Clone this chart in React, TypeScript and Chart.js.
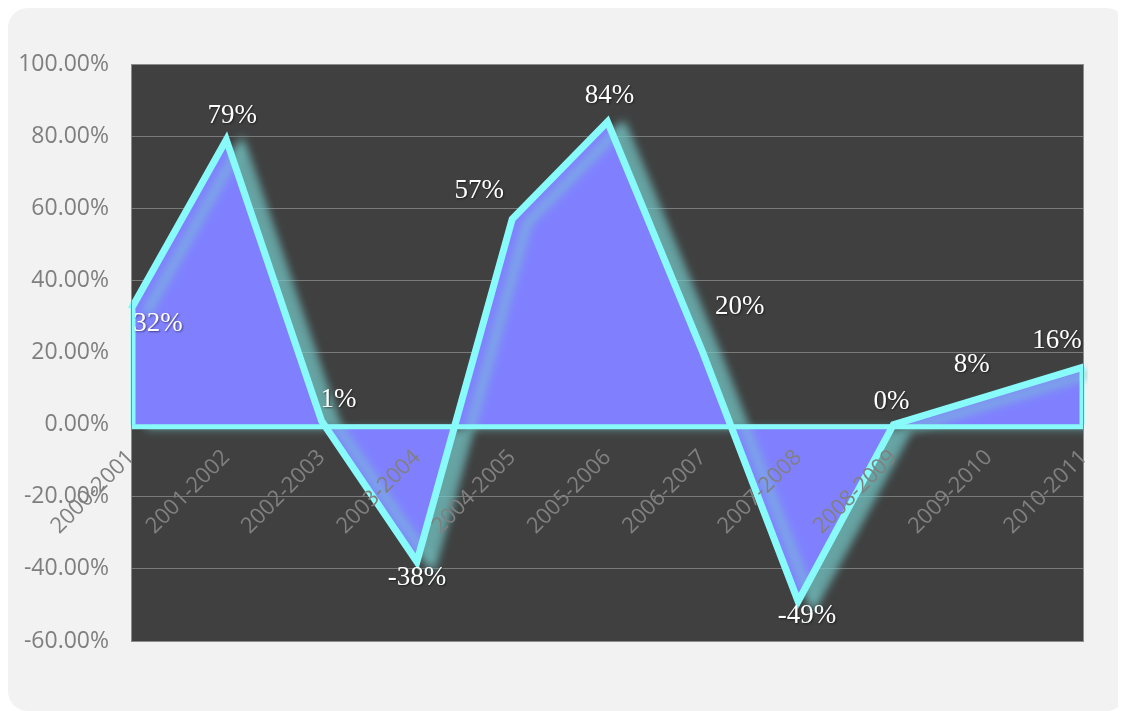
import React, { useEffect, useRef } from 'react';
import { Chart, registerables } from 'chart.js';

Chart.register(...registerables);

const categories = [
  '2000-2001', '2001-2002', '2002-2003', '2003-2004', '2004-2005', '2005-2006',
  '2006-2007', '2007-2008', '2008-2009', '2009-2010', '2010-2011',
];
const growthValues = [32, 79, 1, -38, 57, 84, 20, -49, 0, 8, 16];
const yMin = -60;
const yMax = 100;
const yStep = 20;

// label placement relative to each point (style config, not data)
const labelOffsets: [number, number][] = [
  [27, 15], [6, -24], [17, -21], [0, 16], [-33, -28], [2, -26],
  [37, -46], [9, 15], [-2, -23], [-17, -31], [-27, -26],
];

const W = 1118;
const H = 703;
const LINE = '#88fafa';

export default function App() {
  const ref = useRef<HTMLCanvasElement | null>(null);

  useEffect(() => {
    const canvas = ref.current;
    if (!canvas) return;

    const decor = {
      id: 'decor',
      beforeDraw(chart: any) {
        const { ctx, chartArea: a } = chart;
        ctx.save();
        ctx.fillStyle = '#404040';
        ctx.fillRect(a.left, a.top, a.right - a.left, a.bottom - a.top);
        ctx.restore();
      },
      beforeDatasetsDraw(chart: any) {
        const ctx = chart.ctx;
        ctx.save();
        ctx.shadowColor = 'rgba(120, 205, 205, 0.7)';
        ctx.shadowBlur = 10;
        ctx.shadowOffsetX = 15;
        ctx.shadowOffsetY = 4;
      },
      afterDatasetsDraw(chart: any) {
        const { ctx, chartArea: a, scales } = chart;
        ctx.restore();
        const meta = chart.getDatasetMeta(0);
        const pts = meta.data;
        const y0 = scales.y.getPixelForValue(0);
        ctx.save();
        // area outline along the baseline and the two ends
        ctx.strokeStyle = LINE;
        ctx.lineWidth = 5;
        ctx.beginPath();
        ctx.moveTo(a.left, y0 + 2);
        ctx.lineTo(a.right, y0 + 2);
        ctx.stroke();
        ctx.beginPath();
        ctx.moveTo(pts[0].x + 2, pts[0].y);
        ctx.lineTo(pts[0].x + 2, y0);
        ctx.moveTo(pts[pts.length - 1].x - 2, pts[pts.length - 1].y);
        ctx.lineTo(pts[pts.length - 1].x - 2, y0);
        ctx.stroke();
        // plot border
        ctx.strokeStyle = '#8c8c8c';
        ctx.lineWidth = 1;
        ctx.strokeRect(a.left + 0.5, a.top + 0.5, a.right - a.left - 1, a.bottom - a.top);
        // data labels
        ctx.font = '27px "Liberation Serif"';
        ctx.textAlign = 'center';
        ctx.textBaseline = 'middle';
        ctx.fillStyle = '#ffffff';
        ctx.shadowColor = 'rgba(0,0,0,0.5)';
        ctx.shadowBlur = 2;
        ctx.shadowOffsetX = 1;
        ctx.shadowOffsetY = 1;
        pts.forEach((pt: any, i: number) => {
          const [dx, dy] = labelOffsets[i];
          ctx.fillText(growthValues[i] + '%', pt.x + dx, pt.y + dy);
        });
        ctx.restore();
      },
    };

    const chart = new Chart(canvas, {
      type: 'line',
      data: {
        labels: categories,
        datasets: [
          {
            data: growthValues,
            borderColor: LINE,
            borderWidth: 7,
            borderJoinStyle: 'miter',
            backgroundColor: '#8080ff',
            fill: 'origin',
            tension: 0,
            pointRadius: 0,
          },
        ],
      },
      options: {
        responsive: false,
        animation: false,
        layout: { padding: { top: 56, right: 42, bottom: 70, left: 0 } },
        plugins: { legend: { display: false }, tooltip: { enabled: false } },
        scales: {
          y: {
            min: yMin,
            max: yMax,
            afterFit(scale: any) {
              scale.width = 123;
            },
            ticks: {
              stepSize: yStep,
              color: '#7f7f7f',
              padding: 22,
              font: { family: 'Open Sans', size: 23 },
              callback: (v: any) => Number(v).toFixed(2) + '%',
            },
            grid: { color: '#7a7a7a', lineWidth: 1, drawTicks: false },
            border: { display: true, color: '#8c8c8c', width: 1 },
          },
          x: {
            type: 'category',
            offset: false,
            position: { y: 0 },
            z: 1,
            grid: { display: false, drawTicks: false },
            border: { display: false },
            ticks: {
              z: 1,
              color: '#808080',
              autoSkip: false,
              minRotation: 45,
              maxRotation: 45,
              padding: 20,
              font: { family: 'Open Sans', size: 22 },
            },
          },
        },
      } as any,
      plugins: [decor],
    });

    return () => chart.destroy();
  }, []);

  return (
    <div
      style={{
        width: W,
        height: H,
        background: '#f2f2f2',
        borderRadius: 20,
        overflow: 'hidden',
      }}
    >
      <canvas ref={ref} width={W} height={H} style={{ display: 'block' }} />
    </div>
  );
}
